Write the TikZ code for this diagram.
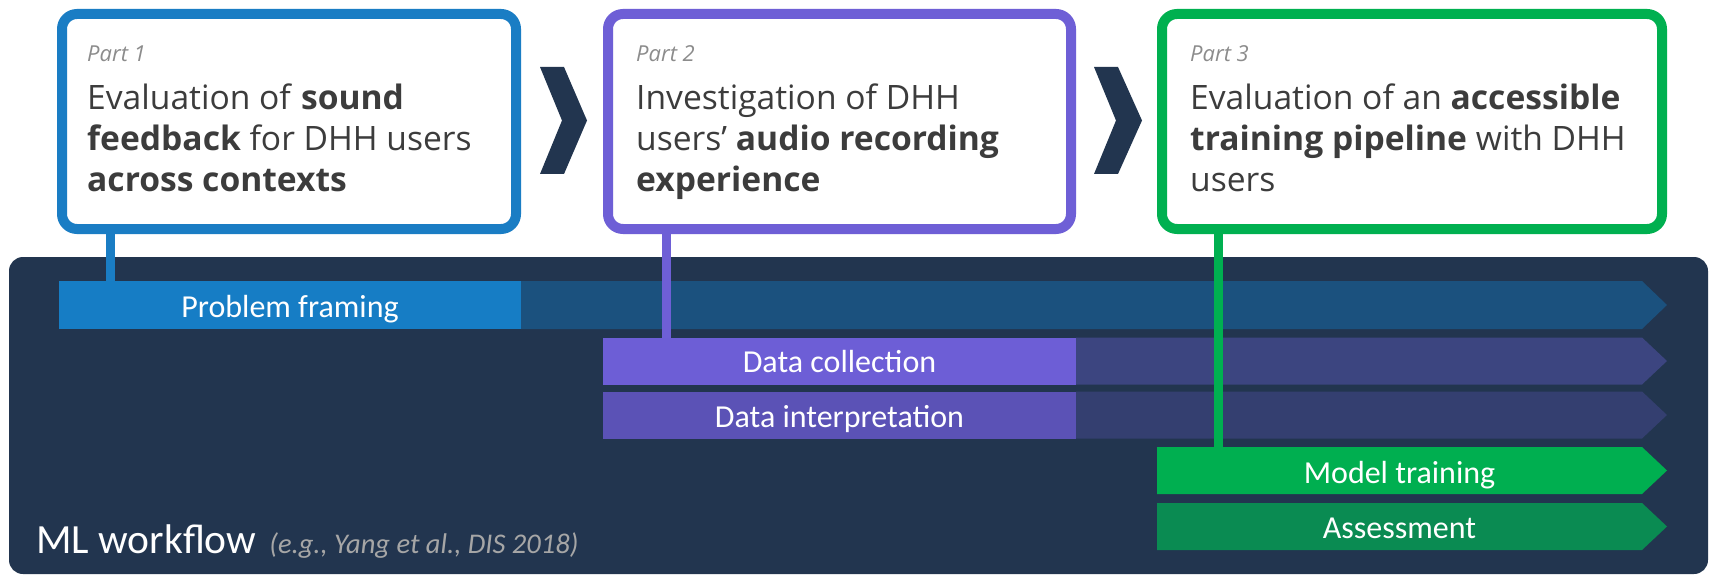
\documentclass[tikz,border=0pt]{standalone}
\usepackage{fontspec}
\setmainfont{Open Sans}
\newfontfamily\barfont{Carlito}
\newfontfamily\partfont{Open Sans}
\definecolor{navy}{HTML}{22354F}
\definecolor{bodytext}{HTML}{3C3C3C}
\definecolor{parttext}{HTML}{8C8C8C}
\definecolor{citetext}{HTML}{A6A6A6}
\definecolor{blueA}{HTML}{1A7DC4}
\definecolor{blueL}{HTML}{167DC5}
\definecolor{blueD}{HTML}{1B517E}
\definecolor{purpA}{HTML}{6E5FD6}
\definecolor{purpL}{HTML}{6D5ED6}
\definecolor{purpD}{HTML}{3C4580}
\definecolor{violL}{HTML}{5B52B6}
\definecolor{violD}{HTML}{343F70}
\definecolor{greenA}{HTML}{00B050}
\definecolor{greenL}{HTML}{00AF50}
\definecolor{greenD}{HTML}{0A8B52}
\tikzset{
  partbox/.style={draw, line width=10pt, rounded corners=15pt, fill=white,
    inner sep=0pt, outer sep=5pt},
  partlabel/.style={anchor=base west, inner sep=0pt, text=parttext,
    font=\partfont\itshape\fontsize{22}{26}\selectfont},
  partbody/.style={anchor=base west, inner sep=0pt, text=bodytext, align=left,
    font=\fontsize{33.6}{41}\selectfont},
  stagebar/.style={rectangle, inner sep=0pt, outer sep=0pt, minimum height=47pt,
    text=white, font=\barfont\fontsize{32}{36}\selectfont},
  link/.style={line width=9pt},
  chev/.style={fill=navy}
}
\begin{document}
\begin{tikzpicture}[x=1pt,y=-1pt]
\useasboundingbox (0,0) rectangle (1709,575);
\fill[white] (0,0) rectangle (1709,575);

% workflow panel
\fill[navy, rounded corners=14pt] (9,257) rectangle (1708,574);

% arrow-shaped stage tracks
\fill[blueD] (521,281) -- (1642,281) -- (1667,305) -- (1642,329) -- (521,329) -- cycle;
\fill[purpD] (1076,337.5) -- (1642,337.5) -- (1667,361) -- (1642,384.5) -- (1076,384.5) -- cycle;
\fill[violD] (1076,391.5) -- (1642,391.5) -- (1667,415) -- (1642,438.5) -- (1076,438.5) -- cycle;
\fill[greenL] (1157,447) -- (1642,447) -- (1667,470.5) -- (1642,494) -- (1157,494) -- cycle;
\fill[greenD] (1157,503) -- (1642,503) -- (1667,526.5) -- (1642,550) -- (1157,550) -- cycle;

% stage blocks
\node[stagebar, fill=blueL, minimum width=462pt, minimum height=48pt] (pf) at (290,305) {};
\node[stagebar, fill=purpL, minimum width=473pt] (dc) at (839.5,361) {};
\node[stagebar, fill=violL, minimum width=473pt] (di) at (839.5,415) {};
\node[stagebar, minimum width=485pt] (mt) at (1399.5,470.5) {};
\node[stagebar, minimum width=485pt] (as) at (1399.5,526.5) {};

% stage labels
\node[stagebar, anchor=base] (pfl) at (290,317) {Problem framing};
\node[stagebar, anchor=base] (dcl) at (839.5,372) {Data collection};
\node[stagebar, anchor=base] (dil) at (839.5,427) {Data interpretation};
\node[stagebar, anchor=base] (mtl) at (1399.5,483) {Model training};
\node[stagebar, anchor=base] (asl) at (1399.5,538) {Assessment};

\node[anchor=base west, inner sep=0pt] (mlw) at (36,553)
  {\barfont\fontsize{41.5}{48}\selectfont\color{white}ML workflow\hspace{13pt}\itshape\fontsize{28.5}{32}\selectfont\color{citetext}(e.g., Yang et al., DIS 2018)};

% part boxes
\node[partbox, draw=blueA, minimum width=454pt, minimum height=215pt] (box1) at (289,121.5) {};
\node[partbox, draw=purpA, minimum width=463pt, minimum height=215pt] (box2) at (839.5,121.5) {};
\node[partbox, draw=greenA, minimum width=500pt, minimum height=215pt] (box3) at (1412,121.5) {};

\node[partlabel] (p1) at (87,62) {Part 1};
\node[partlabel] (p2) at (636,62) {Part 2};
\node[partlabel] (p3) at (1190,62) {Part 3};

% body text, anchored on the baseline of its last line
\node[partbody] (t1) at (87,192) {Evaluation of \textbf{sound}\\\textbf{feedback} for DHH users\\\textbf{across contexts}};
\node[partbody] (t2) at (636,192) {Investigation of DHH\\users’ \textbf{audio recording}\\\textbf{experience}};
\node[partbody] (t3) at (1190,192) {Evaluation of an \textbf{accessible}\\\textbf{training pipeline} with DHH\\users};

% chevrons between parts
\fill[chev] (540,67) -- (564,67) -- (587,120.5) -- (564,174) -- (540,174) -- (562,120.5) -- cycle;
\fill[chev] (1094,67) -- (1118,67) -- (1142,120.5) -- (1118,174) -- (1094,174) -- (1116,120.5) -- cycle;

% links from parts to workflow stages
\coordinate (c1) at (110,0);
\coordinate (c2) at (666,0);
\coordinate (c3) at (1218,0);
\draw[link, blueA] (box1.south -| c1) -- (pf.north -| c1);
\draw[link, purpA] (box2.south -| c2) -- (dc.north -| c2);
\draw[link, greenA] (box3.south -| c3) -- (mt.north -| c3);
\end{tikzpicture}
\end{document}
